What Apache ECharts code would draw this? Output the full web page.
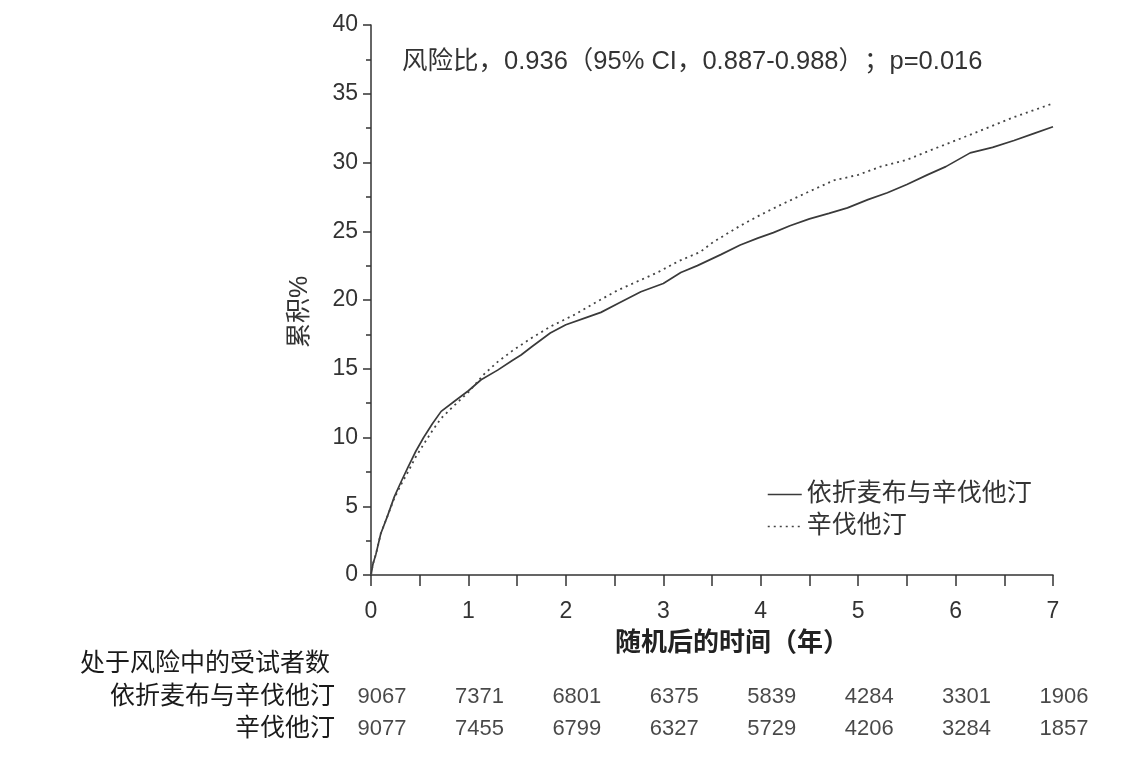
<!DOCTYPE html>
<html>
<head>
<meta charset="utf-8">
<script src="https://cdn.jsdelivr.net/npm/echarts@6/dist/echarts.min.js"></script>
<style>
html,body{margin:0;padding:0;background:#fff;}
#chart{width:1128px;height:766px;}
</style>
</head>
<body>
<div id="chart"></div>
<script>
// ---- data ----
var seriesNames = ['依折麦布与辛伐他汀', '辛伐他汀'];
var comboCurve = [[0,0],[0.02,0.8],[0.05,1.5],[0.1,3.0],[0.17,4.3],[0.24,5.7],[0.31,6.8],[0.38,7.85],[0.46,9.0],[0.54,10.0],[0.63,11.0],[0.72,11.9],[0.85,12.6],[1.0,13.4],[1.13,14.2],[1.3,14.9],[1.45,15.6],[1.54,16.0],[1.65,16.6],[1.84,17.6],[2.0,18.2],[2.2,18.7],[2.36,19.1],[2.55,19.8],[2.77,20.6],[3.0,21.2],[3.18,22.0],[3.35,22.5],[3.59,23.3],[3.79,24.0],[3.97,24.5],[4.13,24.9],[4.3,25.4],[4.5,25.9],[4.7,26.3],[4.89,26.7],[5.1,27.3],[5.3,27.8],[5.5,28.4],[5.71,29.1],[5.9,29.7],[6.15,30.7],[6.38,31.1],[6.6,31.6],[6.8,32.1],[7.0,32.6]];
var simvaCurve = [[0,0],[0.02,0.8],[0.05,1.5],[0.1,3.0],[0.17,4.3],[0.24,5.6],[0.31,6.6],[0.38,7.5],[0.46,8.6],[0.54,9.5],[0.63,10.5],[0.72,11.4],[0.85,12.3],[1.0,13.3],[1.16,14.6],[1.3,15.5],[1.45,16.3],[1.64,17.2],[1.85,18.1],[2.08,18.9],[2.3,19.8],[2.53,20.7],[2.75,21.4],[2.94,22.0],[3.15,22.8],[3.38,23.5],[3.51,24.2],[3.79,25.4],[4.0,26.2],[4.2,26.9],[4.47,27.8],[4.75,28.7],[5.0,29.1],[5.23,29.7],[5.5,30.2],[5.71,30.8],[6.0,31.6],[6.32,32.5],[6.6,33.3],[6.8,33.8],[7.0,34.3]];
var riskYears = [0, 1, 2, 3, 4, 5, 6, 7];
var riskCombo = [9067, 7371, 6801, 6375, 5839, 4284, 3301, 1906];
var riskSimva = [9077, 7455, 6799, 6327, 5729, 4206, 3284, 1857];
var annotationText = '风险比，0.936（95% CI，0.887-0.988）；p=0.016';
var riskHeader = '处于风险中的受试者数';
var xAxisName = '随机后的时间（年）';
var yAxisName = '累积%';

// ---- chart ----
var FONT = "'Liberation Sans', 'Noto Sans CJK SC', sans-serif";
var TXT = '#333';
var chart = echarts.init(document.getElementById('chart'));

function riskPoints(vals, row) {
  return riskYears.map(function (t, i) { return [t, row, vals[i]]; });
}

var option = {
  backgroundColor: '#fff',
  animation: false,
  textStyle: { fontFamily: FONT, color: TXT },
  grid: [
    { left: 371, right: 75, top: 25, bottom: 191 },
    { left: 371, right: 75, top: 681, height: 64 }
  ],
  legend: {
    orient: 'vertical',
    left: 762,
    top: 477,
    itemWidth: 34,
    itemHeight: 14,
    itemGap: 7,
    data: seriesNames,
    itemStyle: { opacity: 0 },
    lineStyle: { width: 1.5 },
    textStyle: { fontSize: 25, color: TXT, fontFamily: FONT }
  },
  xAxis: [
    {
      gridIndex: 0, type: 'value', min: 0, max: 7, interval: 1,
      name: xAxisName, nameLocation: 'middle', nameGap: 56,
      nameTextStyle: { fontSize: 26, fontWeight: 'bold', color: '#222', padding: [0, 0, 0, 40] },
      axisLine: { lineStyle: { color: '#333', width: 1.5 } },
      axisTick: { length: 11, lineStyle: { color: '#333', width: 1.5 } },
      minorTick: { show: true, splitNumber: 2, length: 11, lineStyle: { color: '#333', width: 1.5 } },
      axisLabel: { fontSize: 23, color: TXT, margin: 25 },
      splitLine: { show: false }
    },
    {
      gridIndex: 1, type: 'value', min: 0, max: 7, interval: 1,
      show: false
    }
  ],
  yAxis: [
    {
      gridIndex: 0, type: 'value', min: 0, max: 40, interval: 5,
      name: yAxisName, nameLocation: 'middle', nameGap: 58,
      nameTextStyle: { fontSize: 25, color: TXT, padding: [0, 0, 0, -24] },
      axisLine: { show: true, lineStyle: { color: '#333', width: 1.5 } },
      axisTick: { show: true, length: 8, lineStyle: { color: '#333', width: 1.5 } },
      minorTick: { show: true, splitNumber: 2, length: 5, lineStyle: { color: '#333', width: 1.5 } },
      axisLabel: { fontSize: 23, color: TXT, margin: 13 },
      splitLine: { show: false }
    },
    {
      gridIndex: 1, type: 'category', inverse: true, data: seriesNames,
      axisLine: { show: false }, axisTick: { show: false },
      axisLabel: { interval: 0, fontSize: 25, color: '#1a1a1a', margin: 36, fontFamily: FONT }
    }
  ],
  graphic: [
    {
      type: 'text', left: 402, top: 49,
      style: { text: annotationText, fontSize: 25.5, fill: TXT, fontFamily: FONT }
    },
    {
      type: 'text', left: 80, top: 652,
      style: { text: riskHeader, fontSize: 25, fill: '#1a1a1a', fontFamily: FONT }
    }
  ],
  series: [
    {
      name: seriesNames[0], type: 'line', xAxisIndex: 0, yAxisIndex: 0,
      data: comboCurve, showSymbol: false, symbol: 'none', smooth: false,
      lineStyle: { color: '#3a3a3a', width: 1.7, type: 'solid' },
      itemStyle: { color: '#3a3a3a' }
    },
    {
      name: seriesNames[1], type: 'line', xAxisIndex: 0, yAxisIndex: 0,
      data: simvaCurve, showSymbol: false, symbol: 'none', smooth: false,
      lineStyle: { color: '#444', width: 1.8, type: [2, 4] },
      itemStyle: { color: '#444' }
    },
    {
      type: 'scatter', xAxisIndex: 1, yAxisIndex: 1, symbolSize: 0,
      data: riskPoints(riskCombo, 0),
      label: { show: true, position: 'inside', offset: [11, 0], fontSize: 22, color: '#1a1a1a',
        formatter: function (p) { return p.value[2]; } },
      silent: true
    },
    {
      type: 'scatter', xAxisIndex: 1, yAxisIndex: 1, symbolSize: 0,
      data: riskPoints(riskSimva, 1),
      label: { show: true, position: 'inside', offset: [11, 0], fontSize: 22, color: '#1a1a1a',
        formatter: function (p) { return p.value[2]; } },
      silent: true
    }
  ]
};
chart.setOption(option);
</script>
</body>
</html>
